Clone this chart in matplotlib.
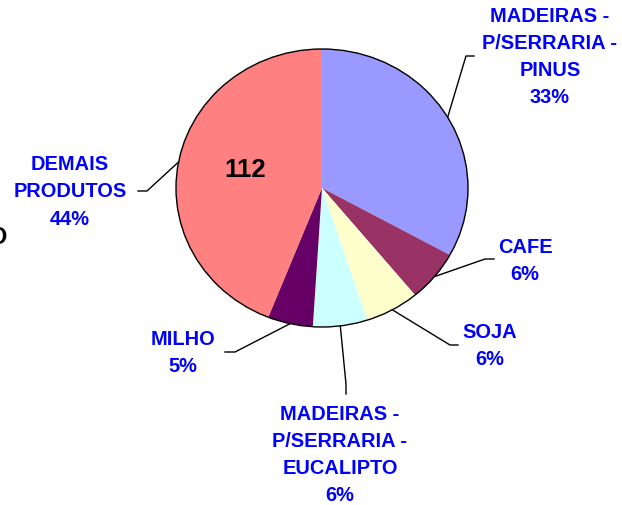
import numpy as np
import matplotlib
matplotlib.use('Agg')
import matplotlib.pyplot as plt
from matplotlib.patches import Circle

# Slice data (clockwise from 12 o'clock)
labels = ['MADEIRAS -\nP/SERRARIA -\nPINUS', 'CAFE', 'SOJA',
          'MADEIRAS -\nP/SERRARIA -\nEUCALIPTO', 'MILHO', 'DEMAIS\nPRODUTOS']
shares = [33, 6, 6, 6, 5, 44]
colors = ['#9999FF', '#993366', '#FFFFCC', '#CCFFFF', '#660066', '#FF8080']
inner_text = '112'

# layout in figure pixels (origin top-left)
W, H = 622, 506
cx, cy, rx, ry = 322, 189, 146, 139
# (elbow, end of leader, text centre) per label
leader_layout = [
    ((466, 57), (474, 57), (550, 57)),
    ((485, 260), (494, 260), (525, 261)),
    ((450, 346), (458, 346), (490, 346)),
    ((346, 385), (346, 395), (340, 455)),
    ((235, 353), (225, 353), (183, 353)),
    ((147, 192), (138, 192), (70, 192)),
]


def px(p):
    # pixel -> data units of the pie axes
    return ((p[0] - cx) / rx, (cy - p[1]) / ry)


fig = plt.figure(figsize=(W / 100, H / 100), dpi=100)
ax = fig.add_axes([0, 0, 1, 1])
ax.axis('off')

wedges, _ = ax.pie(shares, colors=colors, startangle=90, counterclock=False,
                   radius=1, center=(0, 0), wedgeprops=dict(linewidth=0))
ax.set_xlim(-cx / rx, (W - cx) / rx)
ax.set_ylim(-(H - cy) / ry, cy / ry)
ax.set_aspect('auto')
ax.add_patch(Circle((0, 0), 1, fill=False, edgecolor='black', linewidth=1))

font = ['Liberation Sans', 'DejaVu Sans']
total = sum(shares)
for w, lab, val, (elbow, end, txt) in zip(wedges, labels, shares, leader_layout):
    mid = np.deg2rad((w.theta1 + w.theta2) / 2)
    start = (np.cos(mid), np.sin(mid))
    e1, e2 = px(elbow), px(end)
    ax.plot([start[0], e1[0], e2[0]], [start[1], e1[1], e2[1]],
            color='black', linewidth=1)
    t = px(txt)
    pct = f'{round(val / total * 100)}%'
    ax.text(t[0], t[1], f'{lab}\n{pct}', ha='center', va='center',
            color='#0000FF', fontsize=14.4, fontweight='bold', family=font,
            linespacing=1.54, multialignment='center')

p = px((245, 170))
ax.text(p[0], p[1], inner_text, ha='center', va='center', color='black',
        fontsize=18.5, fontweight='bold', family=font)

# clipped title fragment at the left edge
p = px((7.5, 238))
ax.text(p[0], p[1], 'O', ha='right', va='center', color='black',
        fontsize=17, fontweight='bold', family=font)

fig.savefig('out.png', dpi=100)
